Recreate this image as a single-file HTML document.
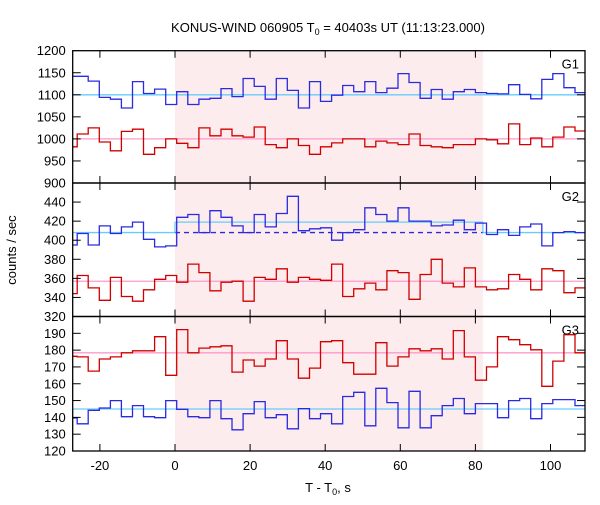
<!DOCTYPE html>
<html><head><meta charset="utf-8"><style>
body{margin:0;background:#fff;}
svg text{font-family:"Liberation Sans","DejaVu Sans",sans-serif;fill:#000;}
</style></head><body>
<svg id="chart" width="600" height="500" viewBox="0 0 600 500" xmlns="http://www.w3.org/2000/svg">
<text x="328" y="32" font-size="13" text-anchor="middle">KONUS-WIND 060905 T<tspan font-size="9" dy="3">0</tspan><tspan dy="-3"> = 40403s UT (11:13:23.000)</tspan></text>
<text x="16" y="250" font-size="13" text-anchor="middle" transform="rotate(-90 16 250)">counts / sec</text>
<text x="328" y="492" font-size="13" text-anchor="middle">T - T<tspan font-size="9" dy="3">0</tspan><tspan dy="-3">, s</tspan></text>
<g id="plots"></g>
</svg>
<script>
const binStart = -29.0;
const binWidth = 2.946;
const g1Blue = [1142,1142,1131,1094,1090,1070,1130,1103,1113,1078,1107,1078,1090,1092,1114,1096,1137,1119,1090,1137,1110,1070,1130,1085,1099,1121,1107,1130,1105,1115,1148,1128,1092,1112,1090,1107,1112,1105,1103,1102,1123,1101,1091,1135,1148,1116,1105];
const g1Red = [982,1011,1025,993,973,1017,1022,965,980,1000,990,980,1025,1007,1022,1007,1004,1027,987,980,1000,985,965,982,991,1000,1000,982,995,991,987,1011,985,982,980,987,987,1000,998,989,1034,987,1002,982,1004,1027,1018];
const g2Blue = [395,407,395,415,407,414,419,401,393,394,424,427,408,431,424,415,408,427,414,428,446,410,412,413,400,408,411,434,427,420,434,420,420,415,416,421,411,418,406,411,405,414,417,394,408,409,408];
const g2Red = [344,363,350,337,361,341,336,348,359,363,356,375,366,347,356,357,336,361,359,370,356,361,359,358,375,341,349,355,348,368,366,338,364,380,355,351,371,351,348,349,364,359,348,370,368,345,350];
const g3Red = [176.3,176,167.5,174.7,176,178.4,179.6,179.6,188,165,192.2,178.4,181.2,182,182.6,166.9,174.1,170.5,174.7,185.6,174.7,163.3,169.3,185,185.6,172.5,165.7,165.7,184.4,170.5,176,180.8,179.6,180.8,174.7,191.6,176,162.1,170,188,186.2,183.2,180.2,158.5,173.5,189.2,178.4];
const g3Blue = [139.6,136.2,144.2,145.6,150,140.4,147,140.4,139.8,150,144.8,140.4,139.8,150,139.2,132.6,142.2,149.4,139.8,141.6,133.2,145.2,139.2,142.2,136.2,152.4,154.9,135,157.3,148.8,133.8,155.5,133.8,141,147,151.2,142.2,148.2,148.2,139.8,150,151.2,139.2,148.2,150.6,150.6,147];
const xTicks = [-20,0,20,40,60,80,100];
const g1Ticks = [900,950,1000,1050,1100,1150,1200];
const g2Ticks = [320,340,360,380,400,420,440];
const g3Ticks = [120,130,140,150,160,170,180,190];
const g1Levels = [1100,1000];
const g2Levels = [408,419,357];
const g3Levels = [178.4,145];
const shade = [0,82];

const NS='http://www.w3.org/2000/svg';
const L=72.7,R=585,T0x=175,PX=3.755;
const x = t => T0x + t*PX;
const tMin=(L-T0x)/PX, tMax=(R-T0x)/PX;
const root=document.getElementById('plots');
function mk(tag,attrs,parent){const e=document.createElementNS(NS,tag);for(const k in attrs)e.setAttribute(k,attrs[k]);(parent||root).appendChild(e);return e;}

const panels=[
 {name:'g1',top:50.7,bot:183,min:900,max:1200,ticks:g1Ticks,label:'G1'},
 {name:'g2',top:183,bot:316.5,min:320,max:460,ticks:g2Ticks,label:'G2'},
 {name:'g3',top:316.5,bot:451,min:120,max:200,ticks:g3Ticks,label:'G3'}
];
panels.forEach(p=>{p.y=v=>p.bot-(v-p.min)/(p.max-p.min)*(p.bot-p.top);});

function stepPath(vals,y){
  let d='';
  vals.forEach((v,i)=>{
    let a=Math.max(binStart+i*binWidth,tMin),b=Math.min(binStart+(i+1)*binWidth,tMax);
    if(b<=a)return;
    d+=(d===''?'M':'L')+x(a).toFixed(1)+','+y(v).toFixed(1)+'L'+x(b).toFixed(1)+','+y(v).toFixed(1);
  });
  return d;
}

const sh=mk('rect',{x:x(shade[0]),y:50.7,width:x(shade[1])-x(shade[0]),height:451-50.7,fill:'#fdeced'});



const series=[
 [panels[0],g1Blue,'#2a2ae0','g1-blue-series'],[panels[0],g1Red,'#d00000','g1-red-series'],
 [panels[1],g2Blue,'#2a2ae0','g2-blue-series'],[panels[1],g2Red,'#d00000','g2-red-series'],
 [panels[2],g3Red,'#d00000','g3-red-series'],[panels[2],g3Blue,'#2a2ae0','g3-blue-series']
];
function hline(p,v,a,b,col,name,dash){
  const l=mk('line',{x1:x(a),x2:x(b),y1:p.y(v),y2:p.y(v),stroke:col,'stroke-width':1.3});
  if(dash)l.setAttribute('stroke-dasharray',dash);
  
  
}
hline(panels[0],g1Levels[0],tMin,tMax,'#66ccff','g1-blue-background');
hline(panels[0],g1Levels[1],tMin,tMax,'#ff99cc','g1-red-background');
hline(panels[1],g2Levels[0],tMin,0,'#66ccff','g2-blue-background-pre');
hline(panels[1],g2Levels[1],0,shade[1],'#66ccff','g2-blue-burst-level');
hline(panels[1],g2Levels[0],shade[1],tMax,'#66ccff','g2-blue-background-post');
hline(panels[1],g2Levels[0],0,shade[1],'#2a2ae0','g2-blue-background-dashed','5,4');
hline(panels[1],g2Levels[2],tMin,tMax,'#ff99cc','g2-red-background');
hline(panels[2],g3Levels[0],tMin,tMax,'#ff99cc','g3-red-background');
hline(panels[2],g3Levels[1],tMin,tMax,'#66ccff','g3-blue-background');
const vc=mk('line',{x1:x(0),x2:x(0),y1:panels[1].y(g2Levels[0]),y2:panels[1].y(g2Levels[1]),stroke:'#66ccff','stroke-width':1.3});


const vc2=mk('line',{x1:x(shade[1]),x2:x(shade[1]),y1:panels[1].y(g2Levels[0]),y2:panels[1].y(g2Levels[1]),stroke:'#66ccff','stroke-width':1.3});



series.forEach(s=>{
  const path=mk('path',{d:stepPath(s[1],s[0].y),fill:'none',stroke:s[2],'stroke-width':1.3});
  
  
});

panels.forEach(p=>{
  const fr=mk('rect',{x:L,y:p.top,width:R-L,height:p.bot-p.top,fill:'none',stroke:'#000','stroke-width':1.3});
  
  
  p.ticks.forEach(v=>{
    const yy=p.y(v);
    if(v>p.min&&v<p.max){
      mk('line',{x1:L,x2:L+8,y1:yy,y2:yy,stroke:'#000','stroke-width':1});
      mk('line',{x1:R-8,x2:R,y1:yy,y2:yy,stroke:'#000','stroke-width':1});
    }
    const t=mk('text',{x:L-7,y:yy+4.5,'font-size':13,'text-anchor':'end'});
    t.textContent=v;
    
    
  });
  xTicks.forEach(v=>{
    mk('line',{x1:x(v),x2:x(v),y1:p.top,y2:p.top+7,stroke:'#000','stroke-width':1});
    mk('line',{x1:x(v),x2:x(v),y1:p.bot-7,y2:p.bot,stroke:'#000','stroke-width':1});
  });
  const lb=mk('text',{x:R-6,y:p.top+18,'font-size':13,'text-anchor':'end'});
  lb.textContent=p.label;
  
  
});
xTicks.forEach(v=>{
  const t=mk('text',{x:x(v),y:470,'font-size':13,'text-anchor':'middle'});
  t.textContent=v;
  
  
});
</script>
</body></html>
